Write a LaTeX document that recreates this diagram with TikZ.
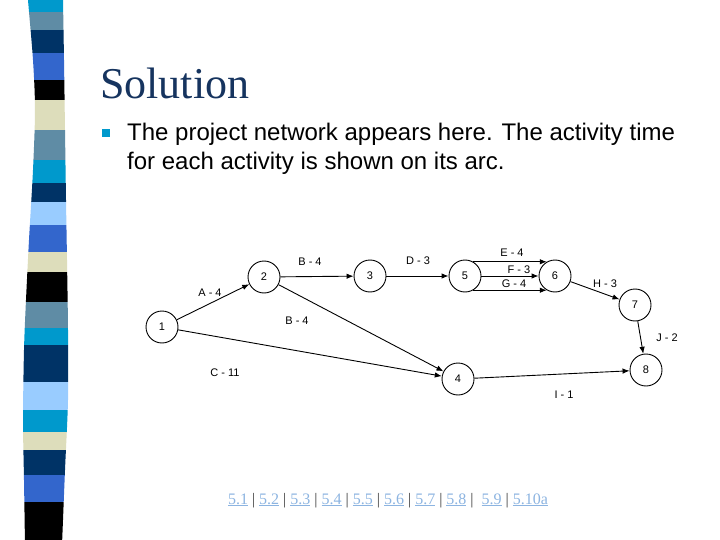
\documentclass[tikz,border=0pt]{standalone}
\usepackage{fontspec}
\setmainfont{Liberation Serif}
\newfontfamily\arialfont{Liberation Sans}
\usetikzlibrary{arrows.meta}

\definecolor{scyan}{RGB}{0,153,204}
\definecolor{ssteel}{RGB}{95,140,165}
\definecolor{snavy}{RGB}{0,51,102}
\definecolor{sroyal}{RGB}{51,102,204}
\definecolor{sbeige}{RGB}{221,221,187}
\definecolor{slight}{RGB}{153,204,255}
\definecolor{titlecol}{RGB}{22,52,95}
\definecolor{linkcol}{RGB}{140,180,225}

\newcommand{\lnk}[1]{{\color{linkcol}\underline{#1}}}

\begin{document}
\begin{tikzpicture}[x=1pt,y=-1pt,
    >={Latex[length=7pt,width=5.5pt]},
    event/.style={circle,draw,line width=0.9pt,minimum size=32pt,inner sep=0pt,
      font=\arialfont\fontsize{11}{13}\selectfont},
    arc/.style={->,line width=0.9pt},
    actlabel/.style={inner sep=0pt,font=\arialfont\fontsize{11}{13}\selectfont},
    titletext/.style={inner sep=0pt,text=titlecol,font=\fontsize{44}{50}\selectfont},
    bodytext/.style={inner sep=0pt,font=\arialfont\fontsize{24}{28}\selectfont},
    linkrow/.style={inner sep=0pt,text=black!75,font=\fontsize{16}{18}\selectfont}]
\useasboundingbox (0,0) rectangle (720,540);
\fill[white] (0,0) rectangle (720,540);
%
% ============ Streifen links ============
\begin{scope}
  \clip plot[smooth] coordinates {(28,-5) (28,0) (33,60) (35,110) (33,170) (29,240)
    (26,300) (24,350) (23,420) (24,480) (25,545)}
    -- plot[smooth] coordinates {(62,545) (65,470) (68,400) (68,330) (67,260)
    (66,200) (65,130) (64,60) (63,0) (63,-5)} -- cycle;
  \foreach \ya/\yb/\col in {0/12/scyan, 12/30/ssteel, 30/53/snavy, 53/80/sroyal,
      80/100/black, 100/130/sbeige, 130/160/ssteel, 160/183/scyan, 183/202/snavy,
      202/225/slight, 225/252/sroyal, 252/272/sbeige, 272/302/black, 302/328/ssteel,
      328/345/scyan, 345/382/snavy, 382/410/slight, 410/432/scyan, 432/450/sbeige,
      450/475/snavy, 475/502/sroyal, 502/545/black}
    \fill[\col] (0,\ya) rectangle (90,\yb);
\end{scope}
%
% ============ Titel und Text ============
\node[titletext,anchor=base west] (title) at (100,99) {Solution};
\fill[scyan] (102,129) rectangle (110,137);
\node[bodytext,anchor=base west] (line1) at (127,141)
  {The project network appears here. The activity time};
\node[bodytext,anchor=base west] (line2) at (127,170)
  {for each activity is shown on its arc.};
%
% ============ Netzplan ============
\node[event] (n1) at (162,327) {1};
\node[event] (n2) at (264,277) {2};
\node[event] (n3) at (370,276) {3};
\node[event] (n5) at (465,276) {5};
\node[event] (n6) at (555,276) {6};
\node[event] (n7) at (635,305) {7};
\node[event] (n8) at (646,370) {8};
\node[event] (n4) at (458,379) {4};
% Pfeile
\draw[arc] (n1) -- (n2);
\draw[arc] (n2) -- (n3);
\draw[arc] (n2) -- (n4);
\draw[arc] (n1) -- (n4);
\draw[arc] (n3) -- (n5);
\draw[arc] (n5.60) -- (n6.120);
\draw[arc] (n5) -- (n6);
\draw[arc] (n5.-60) -- (n6.-120);
\draw[arc] (n6) -- (n7);
\draw[arc] (n7) -- (n8);
\draw[arc] (n4) -- (n8);
% Beschriftungen
\node[actlabel] (lA) at (210,293) {A - 4};
\node[actlabel] (lB) at (310,262) {B - 4};
\node[actlabel] (lB2) at (297,321) {B - 4};
\node[actlabel] (lC) at (225,373) {C - 11};
\node[actlabel] (lD) at (418,261) {D - 3};
\node[actlabel] (lE) at (512,253) {E - 4};
\node[actlabel] (lF) at (519,270) {F - 3};
\node[actlabel] (lG) at (514,284) {G - 4};
\node[actlabel] (lH) at (605,284) {H - 3};
\node[actlabel] (lJ) at (667,338) {J - 2};
\node[actlabel] (lI) at (564,395) {I - 1};
%
% ============ Links unten ============
\node[linkrow,anchor=base] (links) at (388,504)
  {\lnk{5.1} | \lnk{5.2} | \lnk{5.3} | \lnk{5.4} | \lnk{5.5} | \lnk{5.6} |
   \lnk{5.7} | \lnk{5.8} |\ \ \lnk{5.9} | \lnk{5.10a}};
\end{tikzpicture}
\end{document}
